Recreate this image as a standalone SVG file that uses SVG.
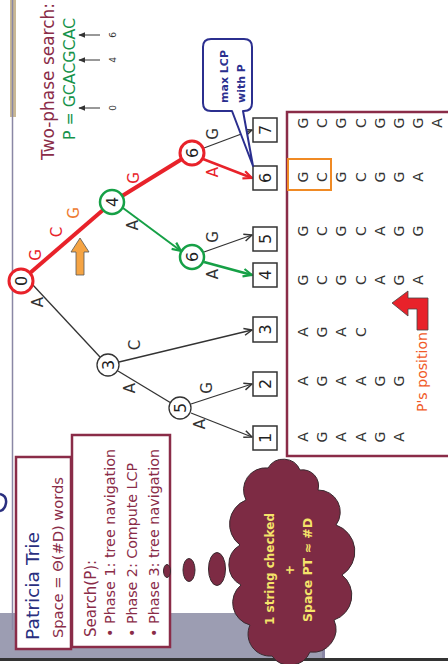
<svg xmlns="http://www.w3.org/2000/svg" width="448" height="664" viewBox="0 0 448 664">
<defs>
<style>
  text { font-family: "DejaVu Sans", "Noto Sans", sans-serif; }
  .c { text-anchor: middle; dominant-baseline: central; }
  .e { fill: none; stroke: #333; stroke-width: 1.3; }
  .er { fill: none; stroke: #e8222a; }
  .eg { fill: none; stroke: #16a046; }
  .nk { fill: #fff; stroke: #333; stroke-width: 1.3; }
  .nr { fill: #fff; stroke: #e8222a; stroke-width: 3; }
  .ng { fill: #fff; stroke: #16a046; stroke-width: 2.5; }
  .leaf { fill: #fff; stroke: #333; stroke-width: 1.5; }
  .num { font-size: 16px; fill: #222; }
  .lbl { font-size: 15px; fill: #333; }
  .lr { fill: #e8222a; }
  .lo { fill: #ee7a30; }
  .s { font-size: 14px; fill: #333; }
  .box { fill: #fff; stroke: #8a2c48; stroke-width: 2.5; }
  .cloud { fill: #7d2b44; stroke: #3a2a30; stroke-width: 1; }
  .ct { font-size: 12px; font-weight: bold; fill: #f5e46a; }
</style>
<marker id="ak" viewBox="0 0 10 10" refX="9" refY="5" markerWidth="10" markerHeight="10" markerUnits="userSpaceOnUse" orient="auto">
  <path d="M1,1.5 L9,5 L1,8.5" fill="none" stroke="#333" stroke-width="1.5" stroke-linejoin="round"/>
</marker>
<marker id="ar" viewBox="0 0 10 10" refX="9" refY="5" markerWidth="11" markerHeight="11" markerUnits="userSpaceOnUse" orient="auto">
  <path d="M1,1.5 L9,5 L1,8.5" fill="none" stroke="#e8222a" stroke-width="2" stroke-linejoin="round"/>
</marker>
<marker id="ag" viewBox="0 0 10 10" refX="9" refY="5" markerWidth="11" markerHeight="11" markerUnits="userSpaceOnUse" orient="auto">
  <path d="M1,1.5 L9,5 L1,8.5" fill="none" stroke="#16a046" stroke-width="2" stroke-linejoin="round"/>
</marker>
<marker id="ap" viewBox="0 0 10 10" refX="9" refY="5" markerWidth="7" markerHeight="7" markerUnits="userSpaceOnUse" orient="auto">
  <path d="M0,1 L10,5 L0,9 Z" fill="#333"/>
</marker>
</defs>

<!-- slide frame -->
<rect x="0" y="613" width="325" height="45" fill="#9c9db2"/>
<rect x="322" y="613" width="3" height="45" fill="#8a87a5"/>
<rect x="0" y="658" width="448" height="3" fill="#333"/>
<rect x="10" y="0" width="6" height="117" fill="#c9b894"/>
<line x1="12.5" y1="0" x2="12.5" y2="630" stroke="#8a87a5" stroke-width="1.5"/>
<path d="M0,494 Q7,496 6,503 Q5,510 0,511" fill="none" stroke="#2a2f7f" stroke-width="2.5"/>

<!-- title and pattern -->
<text transform="translate(54,160) rotate(-90)" font-size="17" fill="#8a2c48" textLength="157" lengthAdjust="spacingAndGlyphs">Two-phase search:</text>
<text transform="translate(75,140) rotate(-90)" font-size="16" fill="#16924a" textLength="122" lengthAdjust="spacingAndGlyphs">P = GCACGCAC</text>
<g id="pattern-marks">
  <line x1="100" y1="108" x2="79" y2="108" stroke="#333" stroke-width="1" marker-end="url(#ap)"/>
  <line x1="100" y1="60" x2="79" y2="60" stroke="#333" stroke-width="1" marker-end="url(#ap)"/>
  <line x1="100" y1="35" x2="79" y2="35" stroke="#333" stroke-width="1" marker-end="url(#ap)"/>
  <text class="c" font-size="9" fill="#333" transform="translate(113,108) rotate(-90)">0</text>
  <text class="c" font-size="9" fill="#333" transform="translate(113,60) rotate(-90)">4</text>
  <text class="c" font-size="9" fill="#333" transform="translate(113,35) rotate(-90)">6</text>
</g>

<!-- connectors -->
<g id="edges">
  <line class="er" stroke-width="4" x1="30" y1="273" x2="103" y2="210"/>
  <line class="er" stroke-width="4" x1="122" y1="196" x2="182" y2="159"/>
  <line class="e" x1="204" y1="148" x2="252" y2="130" marker-end="url(#ak)"/>
  <line class="er" stroke-width="2.5" x1="203" y1="159" x2="252" y2="178" marker-end="url(#ar)"/>
  <line class="eg" stroke-width="2" x1="123" y1="208" x2="181" y2="251" marker-end="url(#ag)"/>
  <line class="e" x1="204" y1="252" x2="252" y2="235" marker-end="url(#ak)"/>
  <line class="eg" stroke-width="2.8" x1="204" y1="262" x2="252" y2="275" marker-end="url(#ag)"/>
  <line class="e" x1="32" y1="284" x2="100" y2="357"/>
  <line class="e" x1="119" y1="362" x2="252" y2="330" marker-end="url(#ak)"/>
  <line class="e" x1="118" y1="371" x2="171" y2="403"/>
  <line class="e" x1="191" y1="404" x2="252" y2="384" marker-end="url(#ak)"/>
  <line class="e" x1="191" y1="413" x2="252" y2="437" marker-end="url(#ak)"/>
</g>

<!-- edge labels -->
<g id="edge-labels">
  <text class="c lbl lr" transform="translate(36,255) rotate(-90)">G</text>
  <text class="c lbl lr" transform="translate(57,232) rotate(-90)">C</text>
  <text class="c lbl lo" transform="translate(74,213) rotate(-90)">G</text>
  <text class="c lbl lr" transform="translate(134,178) rotate(-90)">G</text>
  <text class="c lbl" transform="translate(38,302) rotate(-90)">A</text>
  <text class="c lbl" transform="translate(133,225) rotate(-90)">A</text>
  <text class="c lbl" transform="translate(213,134) rotate(-90)">G</text>
  <text class="c lbl lr" transform="translate(213,172) rotate(-90)">A</text>
  <text class="c lbl" transform="translate(213,237) rotate(-90)">G</text>
  <text class="c lbl" transform="translate(213,274) rotate(-90)">A</text>
  <text class="c lbl" transform="translate(135,345) rotate(-90)">C</text>
  <text class="c lbl" transform="translate(130,388) rotate(-90)">A</text>
  <text class="c lbl" transform="translate(207,388) rotate(-90)">G</text>
  <text class="c lbl" transform="translate(200,424) rotate(-90)">A</text>
</g>

<!-- orange marker arrow -->
<polygon points="76,275 84,275 84,252 89,252 80,238 71,252 76,252" fill="#f5a444" stroke="#555" stroke-width="0.8"/>

<!-- internal nodes -->
<g id="n-root"><circle class="nr" cx="21" cy="281" r="12"/><text class="c num" transform="translate(21,281) rotate(-90)">0</text></g>
<g id="n-4"><circle class="ng" cx="112" cy="202" r="12"/><text class="c num" transform="translate(112,202) rotate(-90)">4</text></g>
<g id="n-6a"><circle class="nr" cx="192" cy="153" r="12"/><text class="c num" transform="translate(192,153) rotate(-90)">6</text></g>
<g id="n-6b"><circle class="ng" cx="192" cy="257" r="12"/><text class="c num" transform="translate(192,257) rotate(-90)">6</text></g>
<g id="n-3"><circle class="nk" cx="108" cy="365" r="11"/><text class="c num" transform="translate(108,365) rotate(-90)">3</text></g>
<g id="n-5"><circle class="nk" cx="180" cy="408" r="11"/><text class="c num" transform="translate(180,408) rotate(-90)">5</text></g>

<!-- leaves -->
<g id="leaf-7"><rect class="leaf" x="253" y="118" width="24" height="24"/><text class="c num" transform="translate(265,130) rotate(-90)">7</text></g>
<g id="leaf-6"><rect class="leaf" x="253" y="166" width="24" height="24" stroke="#2b2f8f" stroke-width="2.5"/><text class="c num" transform="translate(265,178) rotate(-90)">6</text></g>
<g id="leaf-5"><rect class="leaf" x="253" y="227" width="24" height="24"/><text class="c num" transform="translate(265,239) rotate(-90)">5</text></g>
<g id="leaf-4"><rect class="leaf" x="253" y="263" width="24" height="24" stroke="#16a046" stroke-width="2.5"/><text class="c num" transform="translate(265,275) rotate(-90)">4</text></g>
<g id="leaf-3"><rect class="leaf" x="253" y="317" width="24" height="25"/><text class="c num" transform="translate(265,329.5) rotate(-90)">3</text></g>
<g id="leaf-2"><rect class="leaf" x="253" y="372" width="24" height="24"/><text class="c num" transform="translate(265,384) rotate(-90)">2</text></g>
<g id="leaf-1"><rect class="leaf" x="253" y="426" width="24" height="24"/><text class="c num" transform="translate(265,438) rotate(-90)">1</text></g>

<!-- callout -->
<g id="callout">
  <path d="M211,39 H244 Q252,39 252,47 V103 Q252,111 244,111 L243,111 L253,166 L232,111 H211 Q203,111 203,103 V47 Q203,39 211,39 Z" fill="#fff" stroke="#2b2f8f" stroke-width="2" stroke-linejoin="round"/>
  <text transform="translate(228,103) rotate(-90)" font-size="11" font-weight="bold" fill="#2b2f8f">max LCP</text>
  <text transform="translate(245,103) rotate(-90)" font-size="11" font-weight="bold" fill="#2b2f8f">with P</text>
</g>

<!-- dictionary strings -->
<g id="strings">
  <rect class="box" x="287" y="112" width="200" height="344" stroke-width="2"/>
  <rect x="288" y="159" width="43" height="31" fill="none" stroke="#f08a24" stroke-width="2"/>
  <g class="s">
    <text class="c s" transform="translate(303,123) rotate(-90)">G</text><text class="c s" transform="translate(322,123) rotate(-90)">C</text><text class="c s" transform="translate(341,123) rotate(-90)">G</text><text class="c s" transform="translate(361,123) rotate(-90)">C</text><text class="c s" transform="translate(380,123) rotate(-90)">G</text><text class="c s" transform="translate(399,123) rotate(-90)">G</text><text class="c s" transform="translate(418,123) rotate(-90)">G</text><text class="c s" transform="translate(437,123) rotate(-90)">A</text>
    <text class="c s" transform="translate(303,177) rotate(-90)">G</text><text class="c s" transform="translate(322,177) rotate(-90)">C</text><text class="c s" transform="translate(341,177) rotate(-90)">G</text><text class="c s" transform="translate(361,177) rotate(-90)">C</text><text class="c s" transform="translate(380,177) rotate(-90)">G</text><text class="c s" transform="translate(399,177) rotate(-90)">G</text><text class="c s" transform="translate(418,177) rotate(-90)">A</text>
    <text class="c s" transform="translate(303,231) rotate(-90)">G</text><text class="c s" transform="translate(322,231) rotate(-90)">C</text><text class="c s" transform="translate(341,231) rotate(-90)">G</text><text class="c s" transform="translate(361,231) rotate(-90)">C</text><text class="c s" transform="translate(380,231) rotate(-90)">A</text><text class="c s" transform="translate(399,231) rotate(-90)">G</text><text class="c s" transform="translate(418,231) rotate(-90)">G</text>
    <text class="c s" transform="translate(303,280) rotate(-90)">G</text><text class="c s" transform="translate(322,280) rotate(-90)">C</text><text class="c s" transform="translate(341,280) rotate(-90)">G</text><text class="c s" transform="translate(361,280) rotate(-90)">C</text><text class="c s" transform="translate(380,280) rotate(-90)">A</text><text class="c s" transform="translate(399,280) rotate(-90)">G</text><text class="c s" transform="translate(418,280) rotate(-90)">A</text>
    <text class="c s" transform="translate(303,332) rotate(-90)">A</text><text class="c s" transform="translate(322,332) rotate(-90)">G</text><text class="c s" transform="translate(341,332) rotate(-90)">A</text><text class="c s" transform="translate(361,332) rotate(-90)">C</text>
    <text class="c s" transform="translate(303,381) rotate(-90)">A</text><text class="c s" transform="translate(322,381) rotate(-90)">G</text><text class="c s" transform="translate(341,381) rotate(-90)">A</text><text class="c s" transform="translate(361,381) rotate(-90)">A</text><text class="c s" transform="translate(380,381) rotate(-90)">G</text><text class="c s" transform="translate(399,381) rotate(-90)">G</text>
    <text class="c s" transform="translate(303,437) rotate(-90)">A</text><text class="c s" transform="translate(322,437) rotate(-90)">G</text><text class="c s" transform="translate(341,437) rotate(-90)">A</text><text class="c s" transform="translate(361,437) rotate(-90)">A</text><text class="c s" transform="translate(380,437) rotate(-90)">G</text><text class="c s" transform="translate(399,437) rotate(-90)">A</text>
  </g>
  <polygon points="392,303 408,291 408,298 428,298 428,330 417,330 417,309 408,309 408,316" fill="#e8222a" stroke="#444" stroke-width="0.8"/>
  <text transform="translate(427,412) rotate(-90)" font-size="14" fill="#f05a28" textLength="80" lengthAdjust="spacingAndGlyphs">P's position</text>
</g>

<!-- info boxes -->
<g id="info-trie">
  <rect class="box" x="16" y="457" width="55" height="192"/>
  <text transform="translate(39,640) rotate(-90)" font-size="18" fill="#2a2f7f" textLength="108" lengthAdjust="spacingAndGlyphs">Patricia Trie</text>
  <text transform="translate(63,638) rotate(-90)" font-size="14.5" fill="#8a2c48" textLength="161" lengthAdjust="spacingAndGlyphs">Space = Θ(#D) words</text>
</g>
<g id="info-search">
  <rect class="box" x="72" y="435" width="98" height="212"/>
  <text transform="translate(96,637) rotate(-90)" font-size="15" fill="#8a2c48" textLength="77" lengthAdjust="spacingAndGlyphs">Search(P):</text>
  <text transform="translate(115,637) rotate(-90)" font-size="14.5" fill="#8a2c48" textLength="188" lengthAdjust="spacingAndGlyphs">• Phase 1: tree navigation</text>
  <text transform="translate(137,637) rotate(-90)" font-size="14.5" fill="#8a2c48" textLength="174" lengthAdjust="spacingAndGlyphs">• Phase 2: Compute LCP</text>
  <text transform="translate(159,637) rotate(-90)" font-size="14.5" fill="#8a2c48" textLength="188" lengthAdjust="spacingAndGlyphs">• Phase 3: tree navigation</text>
</g>

<!-- thought cloud -->
<g id="thought">
  <ellipse class="cloud" cx="167" cy="571" rx="3.5" ry="6.5"/>
  <ellipse class="cloud" cx="189" cy="570" rx="6" ry="11.5"/>
  <ellipse class="cloud" cx="217" cy="569" rx="8.5" ry="16.5"/>
  <path class="cloud" d="M246,500 A22,22 0 0 1 268,468 A18,18 0 0 1 300,470 A16,16 0 0 1 318,490 A22,22 0 0 1 336,525 A28,28 0 0 1 342,575 A26,26 0 0 1 334,620 A23,23 0 0 1 310,652 A22,22 0 0 1 272,656 A22,22 0 0 1 250,625 A23,23 0 0 1 241,585 A23,23 0 0 1 240,545 A26,26 0 0 1 246,500 Z"/>
  <text class="c ct" transform="translate(270,569) rotate(-90)" textLength="112" lengthAdjust="spacingAndGlyphs">1 string checked</text>
  <text class="c ct" transform="translate(290,570) rotate(-90)" font-size="10">+</text>
  <text class="c ct" transform="translate(308,570) rotate(-90)" textLength="104" lengthAdjust="spacingAndGlyphs">Space PT ≈ #D</text>
</g>
</svg>
